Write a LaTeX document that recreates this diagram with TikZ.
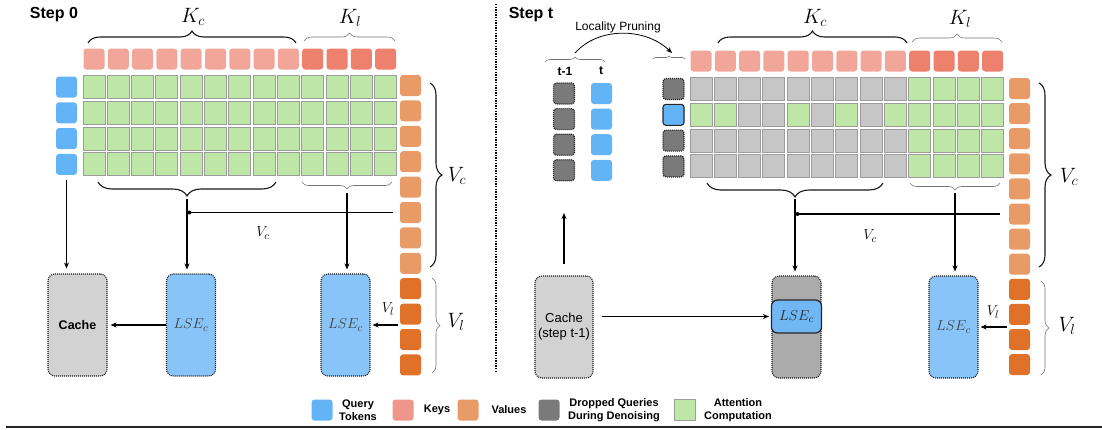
\documentclass[tikz,border=0pt]{standalone}
\usepackage{fontspec}
\setsansfont{Liberation Sans}
\usetikzlibrary{arrows.meta,decorations.pathreplacing,positioning}

\definecolor{cquery}{HTML}{63B3F7}
\definecolor{clse}{HTML}{88C4F8}
\definecolor{clsein}{HTML}{70B7F4}
\definecolor{ckeyc}{HTML}{F2A69A}
\definecolor{ckeyl}{HTML}{EE806E}
\definecolor{ckeyleg}{HTML}{F0958A}
\definecolor{cvalc}{HTML}{E89B66}
\definecolor{cvall}{HTML}{DF7128}
\definecolor{cgreen}{HTML}{BEE6A7}
\definecolor{coff}{HTML}{C6C6C6}
\definecolor{cline}{HTML}{9C9C9C}
\definecolor{cdrop}{HTML}{7A7A7A}
\definecolor{ccache}{HTML}{D2D2D2}
\definecolor{cgone}{HTML}{ABABAB}

\tikzset{>={Stealth[length=6pt,width=5pt]},
  tok/.style={rectangle,rounded corners=3pt,minimum width=21pt,minimum height=21pt,inner sep=0pt},
  query/.style={tok,fill=cquery},
  dropq/.style={tok,fill=cdrop,draw=black!90,line width=1.2pt,dash pattern=on 1pt off 1pt},
  keyc/.style={tok,fill=ckeyc},
  keyl/.style={tok,fill=ckeyl},
  valc/.style={tok,fill=cvalc},
  vall/.style={tok,fill=cvall},
  att/.style={rectangle,minimum width=22pt,minimum height=23pt,inner sep=0pt,fill=cgreen,draw=cline,line width=0.9pt},
  off/.style={att,fill=coff},
  tall/.style={rectangle,rounded corners=7pt,minimum width=49pt,minimum height=102pt,inner sep=0pt,draw=black!90,line width=1.1pt,dash pattern=on 1pt off 1pt},
  lse/.style={font=\fontsize{15}{17}\selectfont,text=black!75},
  bigbrace/.style={decorate,decoration={brace,amplitude=#1},line width=1.1pt,draw=black!90},
  bigbrace/.default=10pt,
  lowbrace/.style={decorate,decoration={brace,mirror,amplitude=#1},line width=1.1pt,draw=black!90},
  lowbrace/.default=12pt,
  thinbrace/.style={decorate,decoration={brace,amplitude=#1},line width=0.6pt,draw=black!55},
  thinbrace/.default=6pt,
  thinlow/.style={decorate,decoration={brace,mirror,amplitude=#1},line width=0.6pt,draw=black!55},
  thinlow/.default=6pt,
  link/.style={->,line width=1.25pt},
  bigsym/.style={font=\fontsize{21}{24}\selectfont},
  smallsym/.style={font=\fontsize{15}{17}\selectfont},
  steplabel/.style={font=\sffamily\bfseries\fontsize{16}{19}\selectfont},
  legend/.style={font=\sffamily\bfseries\fontsize{11}{13}\selectfont,align=center},
}

\begin{document}
\begin{tikzpicture}[x=1pt,y=-1pt]
\useasboundingbox (0,0) rectangle (1102,429);

% step 0
\node[steplabel] (step0) at (54,15) {Step 0};

\foreach \c in {0,...,8} \node[keyc] (k0-\c) at ({94+24.3*\c},59) {};
\foreach \c in {9,...,12} \node[keyl] (k0-\c) at ({94+24.3*\c},59) {};

\foreach \r in {0,...,3} {
  \node[query] (q0-\r) at (66.5,{87+25.8*\r}) {};
  \foreach \c in {0,...,12} \node[att] (a0-\r-\c) at ({94+24.3*\c},{87+25.8*\r}) {};
}

\foreach \j in {0,...,7} \node[valc] (v0-\j) at (410.5,{85.5+25.4*\j}) {};
\foreach \j in {8,...,11} \node[vall] (v0-\j) at (410.5,{85.5+25.4*\j}) {};

\draw[bigbrace=12pt] (88,43) -- (296,43);
\node[bigsym] (kc0) at (193,17) {$K_c$};
\draw[thinbrace=8pt] (304,41) -- (395,41);
\node[bigsym] (kl0) at (350,18) {$K_l$};
\draw[lowbrace=14pt] (98,182) -- (276,182);
\draw[thinlow=7pt] (302,182) -- (392,182);
\draw[bigbrace=12pt] (430,83) -- (430,267);
\node[bigsym] (vc0) at (457,176) {$V_c$};
\draw[thinbrace=8pt] (432,278) -- (432,373);
\node[bigsym] (vl0) at (456,322) {$V_l$};

\node[tall,fill=ccache,minimum width=59pt,font=\sffamily\bfseries\fontsize{12.5}{15}\selectfont] (cache0) at (77.5,325) {Cache};
\node[tall,fill=clse,lse] (lse0) at (191,325) {$LSE_c$};
\node[tall,fill=clse,lse] (lse1) at (345.5,325) {$LSE_c$};

\coordinate (kcb0) at (187,199);
\coordinate (klb0) at (347,193);

\draw[link,shorten <=5pt,shorten >=5pt] (q0-3.south) -- (q0-3 |- cache0.north);
\draw[link,shorten >=4pt] (kcb0) -- (kcb0 |- lse0.north);
\draw[link,shorten >=4pt] (klb0) -- (klb0 |- lse1.north);
\draw[line width=1.25pt,shorten <=7pt] (v0-5.west) -- (v0-5.west -| kcb0);
\fill (v0-5.west -| kcb0) ++(2.5,0) circle (2pt);
\node[smallsym] (vcl0) at (263,233) {$V_c$};
\draw[link,shorten >=3pt] (lse0.west) -- (cache0.east);
\draw[link,shorten <=2pt,shorten >=2pt] (lse1.east -| v0-9.west) -- (lse1.east);
\node[smallsym] (vll0) at (388,309) {$V_l$};

\draw[line width=1.3pt,dash pattern=on 1.3pt off 1.3pt] (496,4) -- (496,372);

% step t
\node[steplabel] (stept) at (531,15) {Step t};
\node[font=\sffamily\fontsize{12}{14}\selectfont] (prune) at (618,27) {Locality Pruning};
\draw[thinbrace=5pt] (545,62) -- (605,62);
\draw[thinbrace=3pt] (653,59) -- (685,59);
\coordinate (prunefrom) at (575,53);
\coordinate (pruneto) at (672,53);
\draw[->,line width=0.8pt] (prunefrom) .. controls (598,27) and (645,27) .. (pruneto);

\node[font=\sffamily\bfseries\fontsize{12}{14}\selectfont] (tm1) at (565,71) {t-1};
\node[font=\sffamily\bfseries\fontsize{12}{14}\selectfont] (tnow) at (601,71) {t};
\foreach \r in {0,...,3} {
  \node[dropq] (p-\r) at (564,{93.5+25.6*\r}) {};
  \node[query] (c-\r) at (601.5,{93.5+25.6*\r}) {};
}

\foreach \c in {0,...,8} \node[keyc] (k1-\c) at ({701+24.3*\c},61) {};
\foreach \c in {9,...,12} \node[keyl] (k1-\c) at ({701+24.3*\c},61) {};

\foreach \r in {0,2,3} \node[dropq] (q1-\r) at (673.5,{89+25.8*\r}) {};
\node[query,draw=black!85,line width=1.1pt] (q1-1) at (673.5,114.8) {};

\foreach \r in {0,...,3} {
  \foreach \c in {0,...,8} \node[off] (a1-\r-\c) at ({701+24.3*\c},{89+25.8*\r}) {};
  \foreach \c in {9,...,12} \node[att] (a1-\r-\c) at ({701+24.3*\c},{89+25.8*\r}) {};
}
\foreach \c in {0,1,4,6,8} \node[att] (h-\c) at (a1-1-\c) {};

\foreach \j in {0,...,7} \node[valc] (v1-\j) at (1019.5,{88.5+25.1*\j}) {};
\foreach \j in {8,...,11} \node[vall] (v1-\j) at (1019.5,{88.5+25.1*\j}) {};

\draw[bigbrace=12pt] (718,43) -- (907,43);
\node[bigsym] (kc1) at (815,18) {$K_c$};
\draw[thinbrace=8pt] (912,42) -- (1002,42);
\node[bigsym] (kl1) at (960,19) {$K_l$};
\draw[lowbrace=14pt] (707,183) -- (883,183);
\draw[thinlow=7pt] (910,183) -- (1000,183);
\draw[bigbrace=12pt] (1039,83) -- (1039,267);
\node[bigsym] (vc1) at (1069,177) {$V_c$};
\draw[thinbrace=8pt] (1041,281) -- (1041,375);
\node[bigsym] (vl1) at (1067,326) {$V_l$};

\node[tall,fill=ccache,minimum width=58pt,align=center,font=\sffamily\fontsize{13}{15}\selectfont] (cache1) at (564,327) {Cache\\(step t-1)};
\node[tall,fill=cgone] (gone) at (796.5,327) {};
\node[rectangle,rounded corners=6pt,minimum width=50pt,minimum height=33pt,inner sep=0pt,fill=clsein,draw=black!85,line width=1.2pt,lse,text=black!85] (lsein) at (796.5,316.5) {$LSE_c$};
\node[tall,fill=clse,lse] (lse3) at (953.5,327) {$LSE_c$};

\coordinate (kcb1) at (795,199);
\coordinate (klb1) at (955,193);
\coordinate (past) at (564,213);

\draw[link,shorten <=11pt] (cache1.north) -- (past);
\draw[link,shorten <=8pt,shorten >=2pt] (cache1.east |- lsein.west) -- (lsein.west);
\draw[link,shorten >=4pt] (kcb1) -- (kcb1 |- gone.north);
\draw[link,shorten >=4pt] (klb1) -- (klb1 |- lse3.north);
\draw[line width=1.25pt,shorten <=9pt] (v1-5.west) -- (v1-5.west -| kcb1);
\fill (v1-5.west -| kcb1) ++(2.5,0) circle (2pt);
\node[smallsym] (vcl1) at (870,236) {$V_c$};
\draw[link,shorten <=2pt,shorten >=2pt] (lse3.east -| v1-9.west) -- (lse3.east);
\node[smallsym] (vll1) at (993,312) {$V_l$};

% legend
\node[query] (lq) at (322,410) {};
\node[legend] (lqt) at (358,410) {Query\\Tokens};
\node[tok,fill=ckeyleg] (lk) at (403,410) {};
\node[legend] (lkt) at (437,410) {Keys};
\node[valc] (lv) at (468,410) {};
\node[legend] (lvt) at (509,410) {Values};
\node[tok,fill=cdrop] (ld) at (549,410) {};
\node[legend] (ldt) at (614,410) {Dropped Queries\\During Denoising};
\node[att,minimum width=21pt,minimum height=21pt] (la) at (685,410) {};
\node[legend] (lat) at (738,410) {Attention\\Computation};

\draw[line width=2pt,black!85] (6,426.5) -- (1102,426.5);
\end{tikzpicture}
\end{document}
